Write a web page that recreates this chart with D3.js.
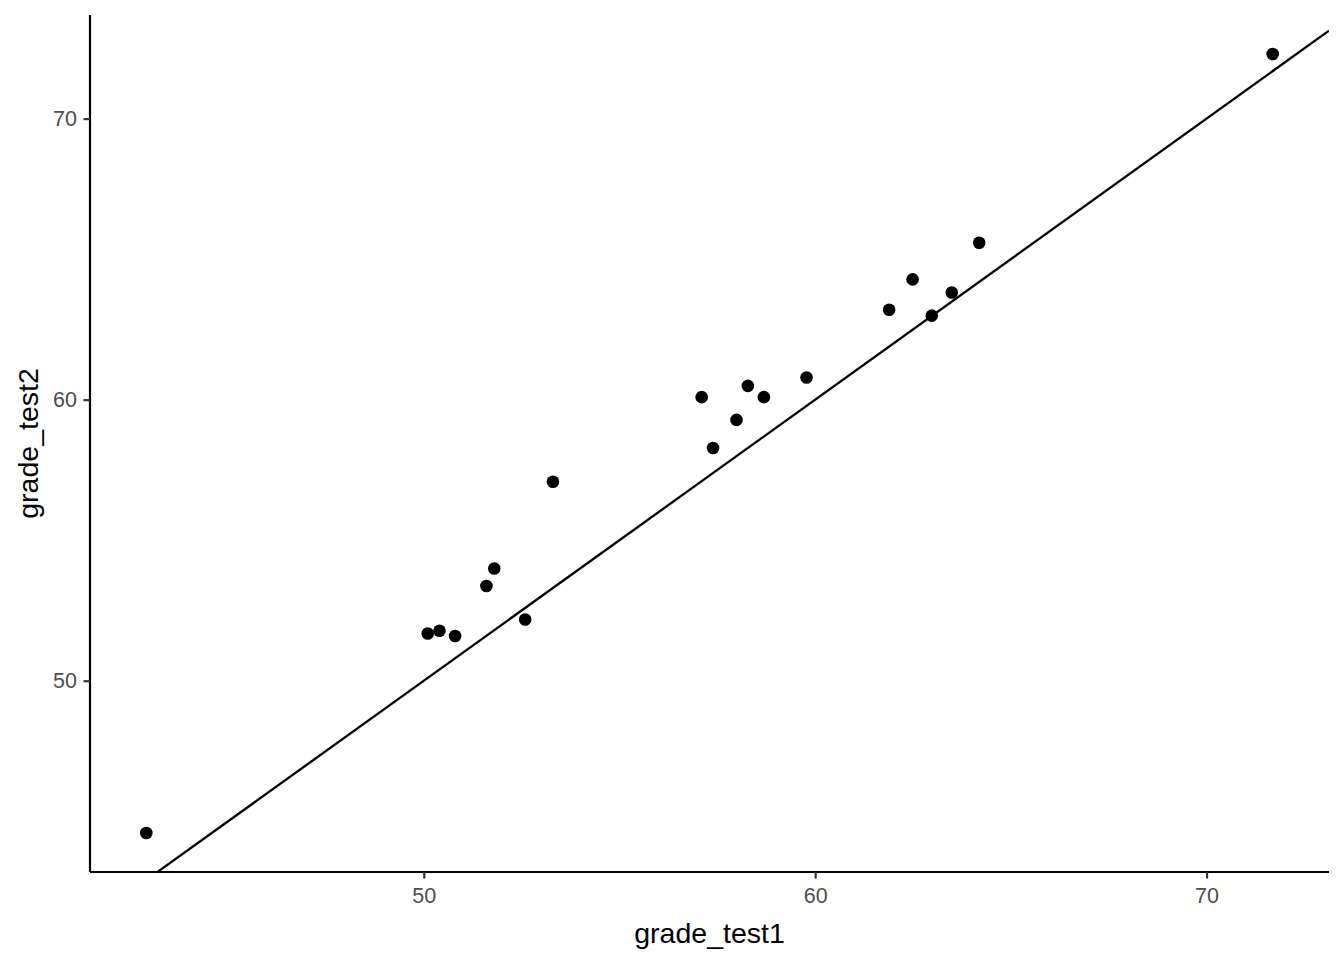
<!DOCTYPE html>
<html><head><meta charset="utf-8">
<script src="https://cdn.jsdelivr.net/npm/d3@7"></script>
<style>body{margin:0;background:#fff}svg{display:block}text{font-family:"Liberation Sans",Arial,sans-serif}</style>
</head><body>
<svg id="c" width="1344" height="960"></svg>
<script>
const grade_test1 = [42.91,50.10,50.40,50.80,51.60,51.80,52.59,53.30,57.10,57.39,57.99,58.28,58.69,59.78,61.89,62.49,62.98,63.49,64.19,71.69];
const grade_test2 = [44.58,51.68,51.78,51.59,53.37,53.99,52.18,57.08,60.09,58.28,59.28,60.49,60.09,60.79,63.20,64.28,62.99,63.81,65.58,72.30];
const xTicks = [50,60,70];
const yTicks = [50,60,70];
const ablineIntercept = 0, ablineSlope = 1;

const svg = d3.select("#c");
const L = 90, R = 1329, T = 15, B = 872;
function expand(ext){const d=(ext[1]-ext[0])*0.05;return [ext[0]-d,ext[1]+d];}
const xDom = expand(d3.extent(grade_test1)), yDom = expand(d3.extent(grade_test2));
const x = d3.scaleLinear().domain(xDom).range([L,R]);
const y = d3.scaleLinear().domain(yDom).range([B,T]);

const defs = svg.append("defs");
defs.append("clipPath").attr("id","clip").append("rect").attr("x",L).attr("y",T).attr("width",R-L).attr("height",B-T);

// abline
const x0 = xDom[0], x1 = xDom[1];
svg.append("line").attr("clip-path","url(#clip)")
  .attr("x1",x(x0)).attr("y1",y(ablineIntercept+ablineSlope*x0))
  .attr("x2",x(x1)).attr("y2",y(ablineIntercept+ablineSlope*x1))
  .attr("stroke","#000").attr("stroke-width",2.3);

// points
svg.append("g").selectAll("circle").data(grade_test1).join("circle")
  .attr("cx",d=>x(d)).attr("cy",(d,i)=>y(grade_test2[i])).attr("r",6.3).attr("fill","#000");

// axes
const xAxis = svg.append("g").attr("transform",`translate(0,${B})`)
  .call(d3.axisBottom(x).tickValues(xTicks).tickSize(6.5).tickPadding(9).tickSizeOuter(0));
const yAxis = svg.append("g").attr("transform",`translate(${L},0)`)
  .call(d3.axisLeft(y).tickValues(yTicks).tickSize(6.5).tickPadding(6.5).tickSizeOuter(0));
[xAxis,yAxis].forEach(a=>{
  a.attr("font-size",null).attr("font-family",null);
  a.select(".domain").attr("stroke","#000").attr("stroke-width",2.2);
  a.selectAll(".tick line").attr("stroke","#333").attr("stroke-width",2.2);
  a.selectAll(".tick text").attr("fill","#4d4d4d").style("font-size","21.5px");
});
xAxis.selectAll(".domain").attr("d",`M${L},0H${R}`);
yAxis.selectAll(".domain").attr("d",`M0,${T}V${B}`);

svg.append("text").attr("x",(L+R)/2).attr("y",943).attr("text-anchor","middle")
  .style("font-size","28.5px").attr("fill","#000").text("grade_test1");
svg.append("text").attr("transform",`translate(38,${(T+B)/2}) rotate(-90)`).attr("text-anchor","middle")
  .style("font-size","28.5px").attr("fill","#000").text("grade_test2");
</script>
</body></html>
